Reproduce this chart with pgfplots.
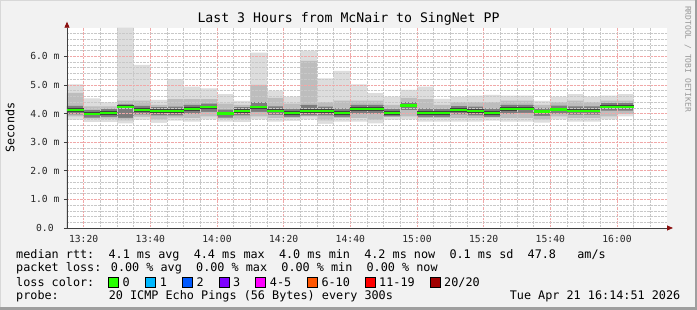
\documentclass[border=0pt]{standalone}
\usepackage{fontspec}
\setmainfont{DejaVu Sans Mono}
\setmonofont{DejaVu Sans Mono}
\usepackage{pgfplots}
\pgfplotsset{compat=1.18}
\usepackage{pgfplotstable}
\usetikzlibrary{arrows.meta}
\definecolor{bg}{HTML}{F2F2F2}
\definecolor{shadeb}{HTML}{9F9F9F}
\definecolor{shadea}{HTML}{D8D8D8}
\definecolor{smokeA}{HTML}{DDDDDD}
\definecolor{smokeB}{HTML}{BDBDBD}
\definecolor{smokeC}{HTML}{7C7C7C}
\definecolor{mgrid}{HTML}{F0A8A8}
\definecolor{mingrid}{HTML}{C8C8C8}
\definecolor{axisc}{HTML}{404040}
\definecolor{arrowc}{HTML}{8B1010}
\definecolor{medc}{HTML}{26FF00}
\definecolor{lossA}{HTML}{26FF00}
\definecolor{lossB}{HTML}{00B8FF}
\definecolor{lossC}{HTML}{0059FF}
\definecolor{lossD}{HTML}{7E00FF}
\definecolor{lossE}{HTML}{FF00FF}
\definecolor{lossF}{HTML}{FF5500}
\definecolor{lossG}{HTML}{FF0000}
\definecolor{lossH}{HTML}{A10000}
\pgfplotstableread{
x   lothree lotwo loone med hione hitwo hithree
795 3.78 3.90 3.97 4.12 4.27 4.72 5.02
800 3.70 3.82 3.86 3.99 4.12 4.25 4.53
805 3.70 3.82 3.88 4.02 4.16 4.25 4.39
810 3.66 3.76 3.85 4.24 4.32 4.45 7.00
815 3.78 3.88 3.97 4.12 4.27 4.45 5.70
820 3.67 3.80 3.94 4.09 4.22 4.30 4.48
825 3.75 3.86 3.94 4.09 4.24 4.50 5.20
830 3.72 3.84 4.00 4.16 4.30 4.50 4.94
835 3.80 3.90 4.06 4.22 4.35 4.50 4.88
840 3.72 3.82 3.86 4.00 4.14 4.35 4.68
845 3.70 3.82 3.94 4.09 4.22 4.30 4.44
850 3.80 3.90 4.06 4.22 4.40 5.00 6.13
855 3.72 3.84 3.95 4.10 4.25 4.55 4.80
860 3.74 3.85 3.88 4.02 4.16 4.35 4.59
865 3.80 3.90 3.94 4.09 4.30 5.84 6.20
870 3.64 3.76 3.94 4.09 4.24 4.40 5.23
875 3.72 3.84 3.88 4.02 4.18 4.45 5.49
880 3.72 3.84 4.00 4.16 4.30 4.45 5.02
885 3.66 3.78 4.00 4.16 4.30 4.45 4.71
890 3.78 3.88 3.90 4.02 4.16 4.30 4.59
895 3.80 3.90 4.12 4.28 4.40 4.55 4.83
900 3.72 3.84 3.88 4.02 4.18 4.50 4.94
905 3.72 3.84 3.88 4.02 4.16 4.30 4.51
910 3.72 3.84 3.97 4.12 4.26 4.40 4.59
915 3.72 3.84 3.94 4.09 4.24 4.40 4.63
920 3.75 3.86 3.88 4.02 4.18 4.40 4.65
925 3.72 3.84 4.00 4.16 4.30 4.45 4.63
930 3.72 3.84 4.02 4.17 4.30 4.45 4.63
935 3.68 3.80 3.92 4.07 4.20 4.30 4.44
940 3.80 3.90 4.00 4.14 4.28 4.40 4.59
945 3.72 3.84 3.96 4.10 4.25 4.45 4.68
950 3.72 3.84 3.96 4.10 4.25 4.40 4.59
955 3.80 3.90 4.10 4.24 4.36 4.45 4.63
960 3.90 3.98 4.10 4.24 4.36 4.45 4.68
965 3.90 3.98 4.10 4.24 4.36 4.45 4.68
}\smoke
\begin{document}
\begin{tikzpicture}[x=1pt,y=1pt]
\fill[bg] (0,0) rectangle (697,310);
\useasboundingbox (0,0) rectangle (697,310);
\draw[shadea, line width=1pt] (0.5,0) -- (0.5,309.5) -- (697,309.5);
\draw[shadeb, line width=2.5pt] (0,1.25) -- (695.75,1.25) -- (695.75,310);
\begin{axis}[
  at={(67pt,82pt)}, anchor=south west,
  width=600pt, height=200.3pt, scale only axis,
  xmin=795, xmax=975, ymin=0, ymax=7.0,
  axis on top,
  axis background/.style={fill=white},
  axis lines=left,
  axis line style={axisc, line width=0.8pt},
  x axis line style={-{Triangle[length=6pt,width=5pt,color=arrowc]}, shorten >=-6pt},
  y axis line style={-{Triangle[length=6pt,width=5pt,color=arrowc]}, shorten >=-6pt},
  xtick={800,820,...,960},
  xticklabels={13:20,13:40,14:00,14:20,14:40,15:00,15:20,15:40,16:00},
  minor xtick={805,810,815,825,830,835,845,850,855,865,870,875,885,890,895,905,910,915,925,930,935,945,950,955,965,970},
  ytick={0,1,2,3,4,5,6},
  yticklabels={0.0~~,1.0 m,2.0 m,3.0 m,4.0 m,5.0 m,6.0 m},
  minor ytick={0.2,0.4,0.6,0.8,1.2,1.4,1.6,1.8,2.2,2.4,2.6,2.8,3.2,3.4,3.6,3.8,4.2,4.4,4.6,4.8,5.2,5.4,5.6,5.8,6.2,6.4,6.6,6.8},
  grid=both,
  major grid style={densely dotted, color=mgrid, line width=0.6pt},
  minor grid style={densely dotted, color=mingrid, line width=0.6pt},
  tick align=outside,
  major tick length=3pt, minor tick length=0pt,
  tick style={axisc, line width=0.6pt},
  xtick style={draw=none},
  tick label style={font=\fontsize{9.7}{10}\selectfont, text=black!85},
  yticklabel style={xshift=-1pt},
  xticklabel style={yshift=-1pt},
]
\addplot[const plot, fill=smokeA, draw=none] table[x=x,y=hithree]{\smoke} \closedcycle;
\addplot[const plot, fill=smokeB, draw=none] table[x=x,y=hitwo]{\smoke} \closedcycle;
\addplot[const plot, fill=smokeC, draw=none] table[x=x,y=hione]{\smoke} \closedcycle;
\addplot[const plot, fill=smokeB, draw=none] table[x=x,y=loone]{\smoke} \closedcycle;
\addplot[const plot, fill=smokeA, draw=none] table[x=x,y=lotwo]{\smoke} \closedcycle;
\addplot[const plot, fill=white, draw=none] table[x=x,y=lothree]{\smoke} \closedcycle;
\end{axis}
\begin{axis}[
  at={(67pt,82pt)}, anchor=south west,
  width=600pt, height=200.3pt, scale only axis,
  xmin=795, xmax=975, ymin=0, ymax=7.0,
  hide axis,
]
\addplot[jump mark left, draw=black!75, line width=3.3pt, mark=none] table[x=x,y=med]{\smoke};
\addplot[jump mark left, draw=medc, line width=2.2pt, mark=none] table[x=x,y=med]{\smoke};
\end{axis}
\node[font=\fontsize{13.2}{15}\selectfont] at (348.5,290.7) {Last 3 Hours from McNair to SingNet PP};
\node[rotate=90, font=\fontsize{11.7}{13}\selectfont] at (10,182.5) {Seconds};
\node[rotate=-90, text=black!40, font=\fontsize{8}{9}\selectfont] at (688,251) {RRDTOOL / TOBI OETIKER};
\begin{scope}[every node/.style={font=\fontsize{11.8}{13}\selectfont, inner sep=0pt}]
\node[anchor=base west] at (16,51.7) {median rtt:~~4.1 ms avg~~4.4 ms max~~4.0 ms min~~4.2 ms now~~0.1 ms sd~~47.8~~~am/s};
\node[anchor=base west] at (16,38.3) {packet loss: 0.00 \% avg~~0.00 \% max~~0.00 \% min~~0.00 \% now};
\node[anchor=base west] at (16,23.7) {loss color:};
\node[anchor=base west] at (16,10) {probe:};
\node[anchor=base west] at (108.6,10) {20 ICMP Echo Pings (56 Bytes) every 300s};
\node[anchor=base east] at (680.5,10) {Tue Apr 21 16:14:51 2026};
\foreach \bx/\col/\lab in {108.3/lossA/{0}, 145.7/lossB/{1}, 182.3/lossC/{2}, 219/lossD/{3}, 255.7/lossE/{4-5}, 307.3/lossF/{6-10}, 365/lossG/{11-19}, 430/lossH/{20/20}}{
  \filldraw[fill=\col, draw=black, line width=0.9pt] (\bx,22.7) rectangle ++(10,10);
  \node[anchor=base west] at (\bx+14,23.7) {\lab};
}
\end{scope}
\end{tikzpicture}
\end{document}
